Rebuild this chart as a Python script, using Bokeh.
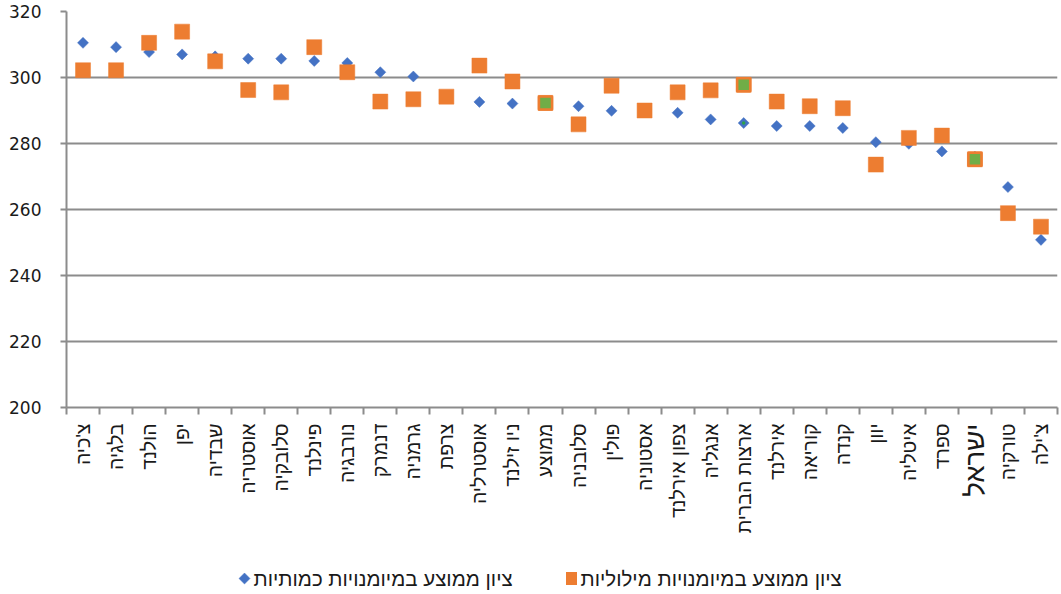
import math

from bokeh.core.properties import value
from bokeh.embed import file_html
from bokeh.layouts import column
from bokeh.models import ColumnDataSource, FixedTicker, Range1d
from bokeh.plotting import figure
from bokeh.resources import INLINE

# ---- data -------------------------------------------------------------
countries = [
    "צ'כיה", "בלגיה", "הולנד", "יפן", "שבדיה", "אוסטריה", "סלובקיה", "פינלנד",
    "נורבגיה", "דנמרק", "גרמניה", "צרפת", "אוסטרליה", "ניו זילנד", "ממוצע",
    "סלובניה", "פולין", "אסטוניה", "צפון אירלנד", "אנגליה", "ארצות הברית",
    "אירלנד", "קוריאה", "קנדה", "יוון", "איטליה", "ספרד", "ישראל", "טורקיה",
    "צ'ילה",
]

# average score in quantitative skills (diamonds)
quant_scores = [
    310.5, 309.2, 307.7, 307.0, 306.4, 305.7, 305.7, 305.0,
    304.4, 301.6, 300.3, 294.0, 292.6, 292.1, 292.3,
    291.3, 289.9, 290.0, 289.3, 287.3, 286.2,
    285.3, 285.3, 284.7, 280.4, 279.9, 277.6, 276.0, 266.8,
    250.8,
]

# average score in verbal skills (squares)
verbal_scores = [
    302.2, 302.2, 310.5, 313.9, 304.9, 296.2, 295.5, 309.2,
    301.6, 292.7, 293.4, 294.2, 303.6, 298.8, 292.3,
    285.8, 297.5, 290.0, 295.5, 296.1, 297.8,
    292.7, 291.3, 290.7, 273.6, 281.7, 282.4, 275.2, 258.9,
    254.8,
]

highlighted = ["ממוצע", "ארצות הברית", "ישראל"]
emphasized_label = "ישראל"

y_ticks = [200, 220, 240, 260, 280, 300, 320]

legend_quant = "ציון ממוצע במיומנויות כמותיות"
legend_verbal = "ציון ממוצע במיומנויות מילוליות"

# ---- styling ----------------------------------------------------------
BLUE = "#4472C4"
ORANGE = "#ED7D31"
GREEN = "#70AD47"
GRID = "#8c8c8c"
TEXT = "#1a1a1a"
HEB_FONT = "Liberation Sans"
NUM_FONT = "DejaVu Sans"

W = 1061
LEFT, RIGHT = 66, 4
MAIN_H, NAMES_H, LEGEND_H = 421, 139, 34

n = len(countries)
xs = [i + 0.5 for i in range(n)]
x_range = Range1d(0, n)

# ---- main chart ---------------------------------------------------------
p = figure(
    width=W, height=MAIN_H,
    output_backend="svg", toolbar_location=None,
    x_range=x_range, y_range=Range1d(y_ticks[0], y_ticks[-1]),
    min_border_left=LEFT, min_border_right=RIGHT,
    min_border_top=11, min_border_bottom=14,
)
p.outline_line_color = None
p.background_fill_color = "white"
p.border_fill_color = "white"

# x axis: tick marks between categories, names drawn in the strip below
p.xaxis.ticker = FixedTicker(ticks=list(range(n + 1)))
p.xaxis.major_label_overrides = {i: "" for i in range(n + 1)}
p.xaxis.major_label_standoff = 0
p.xaxis.major_tick_in = 0
p.xaxis.major_tick_out = 7
p.xaxis.minor_tick_line_color = None
p.xaxis.axis_line_color = GRID
p.xaxis.axis_line_width = 2
p.xaxis.major_tick_line_color = GRID
p.xaxis.major_tick_line_width = 2
p.xgrid.grid_line_color = None

# y axis
p.yaxis.ticker = FixedTicker(ticks=y_ticks)
p.yaxis.major_tick_in = 0
p.yaxis.major_tick_out = 6
p.yaxis.minor_tick_line_color = None
p.yaxis.major_label_standoff = 19
p.yaxis.major_label_text_font = NUM_FONT
p.yaxis.major_label_text_font_size = "17px"
p.yaxis.major_label_text_color = TEXT
p.yaxis.axis_line_color = GRID
p.yaxis.axis_line_width = 2
p.yaxis.major_tick_line_color = GRID
p.yaxis.major_tick_line_width = 2
p.ygrid.ticker = FixedTicker(ticks=y_ticks)
p.ygrid.grid_line_color = GRID
p.ygrid.grid_line_width = 2

src = ColumnDataSource(dict(x=xs, country=countries, quant=quant_scores, verbal=verbal_scores))

hi_idx = [countries.index(c) for c in highlighted]
hi_src = ColumnDataSource(dict(
    x=[xs[i] for i in hi_idx],
    quant=[quant_scores[i] for i in hi_idx],
    verbal=[verbal_scores[i] for i in hi_idx],
))

p.scatter("x", "quant", source=src, marker="square", angle=math.pi / 4, size=7.8,
          fill_color=BLUE, line_color=BLUE, line_width=0.5)
p.scatter("x", "quant", source=hi_src, marker="circle", size=3.5,
          fill_color="#2ca24a", line_color=None)
p.scatter("x", "verbal", source=src, marker="square", size=15,
          fill_color=ORANGE, line_color=ORANGE, line_width=0.5)
p.scatter("x", "verbal", source=hi_src, marker="square", size=13,
          fill_color=GREEN, line_color=ORANGE, line_width=2.5)

# ---- category names strip (shares the x range) ---------------------------
names = figure(
    width=W, height=NAMES_H,
    output_backend="svg", toolbar_location=None,
    x_range=x_range, y_range=Range1d(0, NAMES_H),
    x_axis_type=None, y_axis_type=None,
    min_border_left=LEFT, min_border_right=RIGHT,
    min_border_top=0, min_border_bottom=0,
)
names.outline_line_color = None
names.grid.visible = False
names_src = ColumnDataSource(dict(
    x=xs,
    y=[NAMES_H - 2] * n,
    name=countries,
    size=["27.5px" if c == emphasized_label else "19.5px" for c in countries],
))
names.text(
    x="x", y="y", text="name", source=names_src, angle=math.pi / 2,
    text_align="right", text_baseline="middle",
    text_font=value(HEB_FONT), text_font_size="size", text_color=TEXT,
)

# ---- legend strip (x range in pixels of the whole page) --------------------
leg = figure(
    width=W, height=LEGEND_H,
    output_backend="svg", toolbar_location=None,
    x_range=Range1d(LEFT, W - RIGHT), y_range=Range1d(0, LEGEND_H),
    x_axis_type=None, y_axis_type=None,
    min_border_left=LEFT, min_border_right=RIGHT, min_border_top=0, min_border_bottom=0,
)
leg.outline_line_color = None
leg.grid.visible = False
mid = LEGEND_H - 18
leg.scatter([244], [mid], marker="square", angle=math.pi / 4, size=7.8,
            fill_color=BLUE, line_color=BLUE, line_width=0.5)
leg.text([253], [mid], text=[legend_quant], text_align="left", text_baseline="middle",
         text_font=value(HEB_FONT), text_font_size="20.5px", text_color=TEXT)
leg.rect([571], [mid], width=11, height=13, fill_color=ORANGE, line_color=None)
leg.text([580], [mid], text=[legend_verbal], text_align="left", text_baseline="middle",
         text_font=value(HEB_FONT), text_font_size="20.5px", text_color=TEXT)

layout = column(p, names, leg, spacing=0)
open("out.html", "w").write(file_html(layout, INLINE))
